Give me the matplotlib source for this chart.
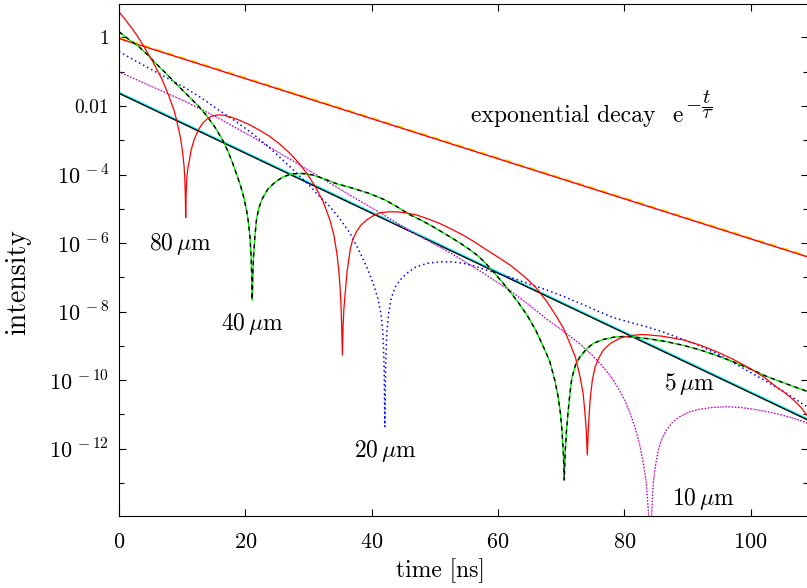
import numpy as np
from matplotlib import pyplot as plt
from matplotlib.ticker import FixedLocator, NullFormatter

plt.rcParams['mathtext.fontset'] = 'cm'
plt.rcParams['font.family'] = 'serif'
plt.rcParams['font.serif'] = ['cmr10']
plt.rcParams['axes.formatter.use_mathtext'] = True

# time in ns, intensity given as log10 values
exp_t = [0, 109.1]
exp_log = [0.0, -6.38]

w5_t = [0, 109.1]
w5_log = [-1.63, -11.17]

w80_t = [0, 1.0, 2.0, 3.0, 3.96, 5.4, 6.86, 7.8, 8.71, 9.1, 9.5, 9.8, 10.1, 10.3, 10.42,
         10.5, 10.56, 10.62, 10.72, 10.88, 11.08, 11.4, 11.88, 12.5, 13.2, 14.0, 14.8,
         15.7, 16.6, 17.8, 19.0, 20.6, 22.2, 23.8, 25.3, 26.9, 28.5, 29.8, 31.1, 32.3,
         33.4, 34.0, 34.5, 34.8, 35.0, 35.15, 35.27, 35.37, 35.47, 35.6, 35.8, 36.1,
         36.6, 37.0, 37.6, 38.3, 39.2, 40.2, 41.3, 42.6, 44.0, 45.5, 47.1, 49.0, 50.8,
         52.6, 54.5, 56.4, 58.2, 60.0, 61.9, 63.4, 64.8, 66.1, 67.7, 69.3, 70.4, 71.4,
         72.3, 73.0, 73.5, 73.8, 74.0, 74.16, 74.3, 74.45, 74.6, 74.95, 75.4, 76.0, 76.7,
         77.9, 79.3, 81.0, 83.0, 86.0, 89.4, 92.0, 94.6, 97.3, 99.9, 102.0, 104.1, 105.5,
         106.8, 108.0, 109.1]
w80_log = [0.75, 0.52, 0.28, 0.02, -0.27, -0.72, -1.24, -1.66, -2.12, -2.40, -2.72, -3.0,
           -3.4, -3.75, -4.1, -4.6, -5.26, -4.6, -4.15, -3.85, -3.65, -3.3, -2.99, -2.72,
           -2.51, -2.37, -2.29, -2.26, -2.27, -2.33, -2.41, -2.54, -2.70, -2.88, -3.09,
           -3.35, -3.67, -3.98, -4.36, -4.78, -5.33, -5.75, -6.30, -6.80, -7.28, -7.8,
           -8.5, -9.27, -8.5, -7.95, -7.5, -6.85, -6.20, -5.9, -5.67, -5.48, -5.33, -5.21,
           -5.12, -5.09, -5.09, -5.12, -5.18, -5.30, -5.43, -5.59, -5.77, -5.98, -6.20,
           -6.41, -6.64, -6.86, -7.08, -7.32, -7.70, -8.15, -8.50, -8.93, -9.35, -9.90,
           -10.4, -11.0, -11.5, -12.19, -11.5, -11.0, -10.58, -10.0, -9.61, -9.35, -9.12,
           -8.92, -8.78, -8.70, -8.67, -8.72, -8.83, -8.98, -9.17, -9.40, -9.66, -9.90,
           -10.20, -10.38, -10.58, -10.80, -11.07]

w40_t = [0, 1.5, 3.17, 4.5, 5.8, 7.4, 8.98, 10.3, 11.6, 12.8, 14.0, 15.2, 16.4, 17.2,
         17.9, 18.6, 19.3, 19.8, 20.2, 20.5, 20.75, 20.92, 21.02, 21.1, 21.18, 21.3, 21.5,
         21.75, 22.1, 22.7, 23.6, 24.8, 26.0, 27.4, 29.0, 30.6, 32.4, 34.3, 37.0, 39.6,
         42.1, 44.1, 46.1, 47.7, 49.2, 50.8, 52.4, 54.0, 55.6, 57.0, 58.2, 59.8, 61.4,
         63.0, 64.6, 66.0, 67.2, 68.2, 69.0, 69.5, 69.9, 70.15, 70.35, 70.5, 70.65, 70.85,
         71.1, 71.4, 71.7, 72.3, 73.0, 74.0, 75.1, 76.6, 78.3, 79.8, 81.4, 84.0, 86.7,
         89.4, 92.0, 94.6, 97.3, 100.0, 102.6, 105.8, 109.1]
w40_log = [0.17, -0.05, -0.27, -0.50, -0.75, -1.04, -1.34, -1.58, -1.82, -2.05, -2.31,
           -2.62, -2.99, -3.30, -3.62, -3.98, -4.36, -4.70, -5.05, -5.40, -5.85, -6.4,
           -7.0, -7.66, -7.0, -6.4, -5.85, -5.35, -5.0, -4.70, -4.42, -4.21, -4.07, -3.98,
           -3.97, -4.01, -4.12, -4.26, -4.40, -4.55, -4.74, -4.95, -5.18, -5.32, -5.47,
           -5.64, -5.82, -6.00, -6.20, -6.40, -6.62, -6.95, -7.30, -7.68, -8.10, -8.55,
           -9.03, -9.45, -10.0, -10.45, -10.97, -11.5, -12.1, -12.92, -12.1, -11.5, -10.95,
           -10.40, -9.95, -9.55, -9.32, -9.10, -8.93, -8.82, -8.75, -8.73, -8.74, -8.80,
           -8.88, -8.99, -9.12, -9.28, -9.47, -9.68, -9.90, -10.12, -10.34]

w20_t = [0, 2.6, 5.28, 7.9, 10.56, 13.2, 15.8, 18.5, 21.1, 23.3, 25.5, 27.1, 28.7, 30.3,
         31.8, 33.4, 35.0, 36.6, 37.9, 39.2, 40.2, 41.0, 41.5, 41.8, 41.98, 42.1, 42.22,
         42.4, 42.7, 43.1, 43.7, 44.5, 45.6, 47.1, 48.9, 50.8, 52.6, 54.5, 56.4, 58.2,
         60.3, 62.4, 65.0, 67.7, 70.4, 73.0, 75.7, 78.3, 81.0, 83.6, 86.2, 88.8, 91.7,
         94.6, 97.3, 100.0, 102.6, 105.8, 109.1]
w20_log = [-0.41, -0.68, -0.95, -1.21, -1.48, -1.78, -2.12, -2.45, -2.80, -3.13, -3.50,
           -3.78, -4.06, -4.35, -4.65, -4.94, -5.30, -5.72, -6.18, -6.69, -7.15, -7.62,
           -8.1, -8.64, -9.6, -11.36, -9.6, -8.64, -8.05, -7.62, -7.3, -7.08, -6.88, -6.69,
           -6.59, -6.55, -6.55, -6.59, -6.68, -6.79, -6.91, -7.03, -7.20, -7.37, -7.56,
           -7.76, -7.98, -8.18, -8.32, -8.45, -8.60, -8.78, -8.98, -9.22, -9.50, -9.78,
           -10.05, -10.40, -10.80]

w10_t = [0, 5.28, 10.56, 15.8, 21.1, 26.4, 31.7, 36.1, 41.0, 46.6, 52.4, 57.2, 62.0,
         64.9, 67.7, 70.4, 73.0, 74.8, 76.2, 77.7, 79.0, 80.0, 80.9, 81.7, 82.4, 83.0,
         83.5, 83.85, 84.1, 84.35, 84.6, 85.0, 85.4, 86.0, 86.7, 87.7, 88.8, 90.3, 92.0,
         94.0, 96.2, 98.3, 100.4, 102.5, 104.7, 106.9, 109.1]
w10_log = [-1.0, -1.44, -1.87, -2.36, -2.90, -3.48, -4.06, -4.55, -5.08, -5.70, -6.28,
           -6.82, -7.40, -7.80, -8.22, -8.58, -8.95, -9.25, -9.52, -9.85, -10.22, -10.56,
           -10.95, -11.38, -11.85, -12.4, -13.0, -13.9, -15.0, -13.9, -13.0, -12.45,
           -12.04, -11.70, -11.46, -11.22, -11.07, -10.93, -10.85, -10.80, -10.78, -10.80,
           -10.85, -10.92, -11.01, -11.12, -11.26]

y_ticks = [1, 1e-2, 1e-4, 1e-6, 1e-8, 1e-10, 1e-12]
y_labels = ['1', '0.01', r'$10^{\,-4}$', r'$10^{\,-6}$', r'$10^{\,-8}$',
            r'$10^{\,-10}$', r'$10^{\,-12}$']
y_minor = [1e-1, 1e-3, 1e-5, 1e-7, 1e-9, 1e-11, 1e-13]
x_ticks = [0, 20, 40, 60, 80, 100]


def p(v):
    return 10.0 ** np.array(v)


fig = plt.figure(figsize=(8.07, 5.88), dpi=100)
ax = fig.add_axes([119/807, 1 - 516/588, 689/807, 512/588])
ax.set_yscale('log')

# exponential decay
ax.plot(exp_t, p(exp_log), color='#ffe000', lw=1.3, ls=(0, (4, 3)))
ax.plot(exp_t, p(np.array(exp_log) - 0.03), color='red', lw=1.0)
# 5 um
ax.plot(w5_t, p(np.array(w5_log) + 0.03), color='cyan', lw=1.2)
ax.plot(w5_t, p(w5_log), color='black', lw=1.0)
# 10 um
ax.plot(w10_t, p(w10_log), color='#ff44ff', lw=1.1, ls=(0, (1, 1)))
ax.plot(w10_t, p(w10_log), color='black', lw=0.6, ls=(1, (1, 3)))
# 20 um
ax.plot(w20_t, p(w20_log), color='blue', lw=1.1, ls=(0, (1, 2)))
# 40 um
ax.plot(w40_t, p(w40_log), color='#00ee00', lw=1.0)
ax.plot(w40_t, p(w40_log), color='black', lw=1.0, ls=(0, (3, 3)))
# 80 um
ax.plot(w80_t, p(w80_log), color='red', lw=0.9)

ax.set_xlim(0, 109.1)
ax.set_ylim(10 ** -13.97, 10 ** 0.978)

ax.yaxis.set_major_locator(FixedLocator(y_ticks))
ax.set_yticklabels(y_labels)
ax.yaxis.set_minor_locator(FixedLocator(y_minor))
ax.yaxis.set_minor_formatter(NullFormatter())
ax.set_xticks(x_ticks)
ax.tick_params(which='both', direction='in', top=True, right=True)
ax.tick_params(which='major', length=5, width=0.8)
ax.tick_params(which='minor', length=3.5, width=0.8)
ax.tick_params(axis='x', labelsize=16, pad=12)
ax.tick_params(axis='y', labelsize=16, pad=7)
for lab in ax.get_yticklabels()[:2]:
    lab.set_fontsize(14)

ax.set_xlabel('time [ns]', fontsize=17)
ax.xaxis.set_label_coords(0.466, -0.082)
ax.set_ylabel('intensity', fontsize=20)
ax.yaxis.set_label_coords(-0.128, 0.457)

ax.text(9.74, 10 ** -6.2, r'$80\,\mu\mathrm{m}$', fontsize=17, ha='center', va='baseline')
ax.text(21.1, 10 ** -8.54, r'$40\,\mu\mathrm{m}$', fontsize=17, ha='center', va='baseline')
ax.text(42.1, 10 ** -12.24, r'$20\,\mu\mathrm{m}$', fontsize=17, ha='center', va='baseline')
ax.text(90.3, 10 ** -10.29, r'$5\,\mu\mathrm{m}$', fontsize=17, ha='center', va='baseline')
ax.text(92.5, 10 ** -13.65, r'$10\,\mu\mathrm{m}$', fontsize=17, ha='center', va='baseline')
ax.text(55.74, 10 ** -2.46, 'exponential decay', fontsize=17, ha='left', va='baseline')
ax.text(87.57, 10 ** -2.46, 'e', fontsize=17, ha='left', va='baseline')
ax.text(89.7, 10 ** -1.97, r'$-\dfrac{t}{\tau}$', fontsize=15, ha='left', va='center')

fig.savefig('out.png', dpi=100)
